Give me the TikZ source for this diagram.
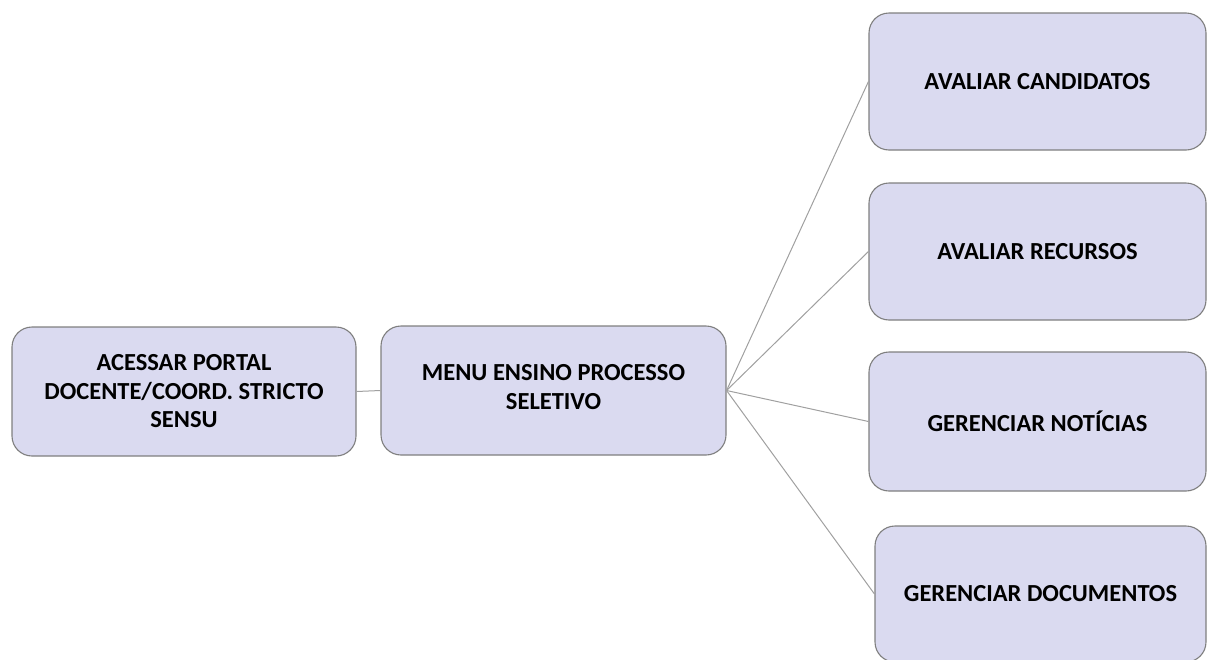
\documentclass[tikz,border=0pt]{standalone}
\usepackage{fontspec}
\setmainfont{Carlito}
\definecolor{boxfill}{HTML}{DADAF0}
\definecolor{boxline}{HTML}{7F7F7F}
\definecolor{linkc}{HTML}{A0A0A0}
\begin{document}
\begin{tikzpicture}[x=1pt,y=-1pt,
  box/.style={draw=boxline, fill=boxfill, rounded corners=20pt, line width=1.1pt,
    rectangle, inner sep=0pt, align=center, text=black,
    font=\fontsize{24.5}{28.5}\selectfont\bfseries},
  link/.style={draw=linkc, line width=1pt}]
\useasboundingbox (0,0) rectangle (1208,659);
\clip (0,0) rectangle (1208,659);
\node[box, minimum width=344pt, minimum height=129pt] (acc) at (184,391.5)
  {ACESSAR PORTAL\\DOCENTE/COORD. STRICTO\\SENSU};
\node[box, minimum width=345pt, minimum height=129pt] (menu) at (553.5,390.5)
  {MENU ENSINO PROCESSO\\SELETIVO\\[-21pt]};
\node[box, minimum width=337pt, minimum height=137pt] (cand) at (1037.5,81.5)
  {AVALIAR CANDIDATOS};
\node[box, minimum width=337pt, minimum height=137pt] (rec) at (1037.5,251.5)
  {AVALIAR RECURSOS};
\node[box, minimum width=337pt, minimum height=139pt] (not) at (1037.5,421.5)
  {GERENCIAR NOTÍCIAS};
\node[box, minimum width=331pt, minimum height=136pt] (doc) at (1040.5,594)
  {GERENCIAR DOCUMENTOS};
\draw[link] (acc.east) -- (menu.west);
\draw[link] (menu.east) -- (cand.west);
\draw[link] (menu.east) -- (rec.west);
\draw[link] (menu.east) -- (not.west);
\draw[link] (menu.east) -- (doc.west);
\end{tikzpicture}
\end{document}
